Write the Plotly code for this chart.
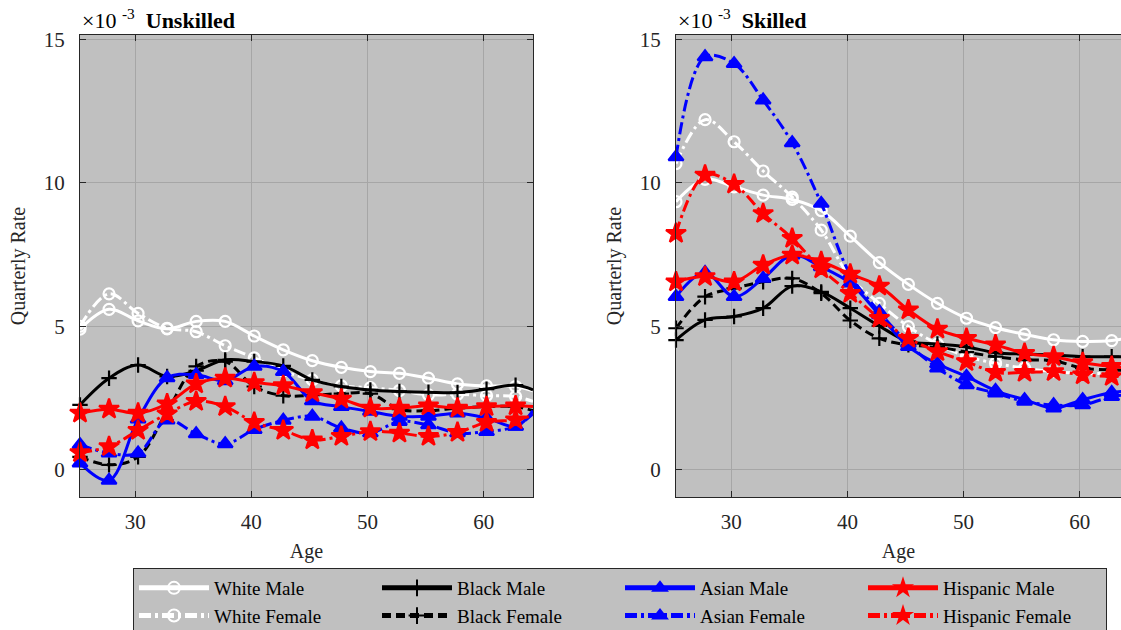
import plotly.graph_objects as go

ages = [25.25, 27.75, 30.25, 32.75, 35.25, 37.75, 40.25, 42.75, 45.25, 47.75,
        50.25, 52.75, 55.25, 57.75, 60.25, 62.75, 64.25]

# Unskilled (x 10^-3)
u_white_m = [4.9, 5.59, 5.19, 4.91, 5.17, 5.17, 4.66, 4.18, 3.8, 3.57, 3.42, 3.36, 3.19, 2.99, 2.92, 2.9, 2.75]
u_white_f = [5.0, 6.13, 5.45, 4.93, 4.81, 4.32, 3.9, 3.45, 3.13, 2.92, 2.86, 2.76, 2.61, 2.63, 2.58, 2.55, 2.38]
u_black_m = [2.26, 3.19, 3.65, 3.25, 3.45, 3.83, 3.77, 3.62, 3.13, 2.9, 2.78, 2.73, 2.7, 2.69, 2.81, 2.95, 2.78]
u_black_f = [0.45, 0.17, 0.45, 2.03, 3.6, 3.77, 2.9, 2.58, 2.6, 2.65, 2.65, 2.11, 2.06, 2.15, 2.2, 2.2, 2.06]
u_asian_m = [0.23, -0.37, 1.76, 3.2, 3.31, 3.1, 3.6, 3.42, 2.4, 2.2, 2.03, 1.86, 1.86, 1.97, 1.8, 1.51, 2.06]
u_asian_f = [0.87, 0.58, 0.58, 1.73, 1.25, 0.9, 1.4, 1.72, 1.86, 1.45, 1.28, 1.68, 1.56, 1.28, 1.33, 1.51, 1.95]
u_hisp_m = [1.97, 2.11, 1.97, 2.3, 2.99, 3.19, 3.04, 2.93, 2.69, 2.46, 2.15, 2.15, 2.23, 2.15, 2.2, 2.23, 2.2]
u_hisp_f = [0.6, 0.81, 1.37, 1.95, 2.38, 2.2, 1.65, 1.37, 1.04, 1.16, 1.33, 1.28, 1.16, 1.3, 1.65, 1.74, 1.9]

# Skilled (x 10^-3)
s_white_m = [9.34, 10.12, 9.86, 9.57, 9.42, 9.03, 8.14, 7.22, 6.46, 5.8, 5.28, 4.95, 4.72, 4.53, 4.47, 4.5, 4.6]
s_white_f = [10.67, 12.2, 11.43, 10.41, 9.5, 8.35, 6.7, 5.8, 4.99, 4.38, 3.95, 3.71, 3.54, 3.42, 3.36, 3.36, 3.36]
s_black_m = [4.52, 5.22, 5.34, 5.63, 6.4, 6.2, 5.63, 5.01, 4.47, 4.38, 4.28, 4.08, 4.03, 4.0, 3.94, 3.94, 3.94]
s_black_f = [4.93, 6.03, 6.32, 6.55, 6.67, 6.15, 5.2, 4.58, 4.35, 4.28, 4.1, 3.94, 3.83, 3.8, 3.54, 3.48, 3.45]
s_asian_m = [6.03, 6.87, 6.03, 6.67, 7.48, 7.07, 6.5, 5.4, 4.29, 3.69, 3.25, 2.76, 2.44, 2.15, 2.44, 2.69, 2.75]
s_asian_f = [10.9, 14.39, 14.15, 12.88, 11.39, 9.28, 6.8, 5.5, 4.4, 3.54, 2.96, 2.67, 2.38, 2.26, 2.26, 2.55, 2.62]
s_hisp_m = [6.55, 6.73, 6.55, 7.13, 7.48, 7.25, 6.82, 6.4, 5.57, 4.9, 4.58, 4.35, 4.06, 3.94, 3.73, 3.6, 3.54]
s_hisp_f = [8.24, 10.27, 9.95, 8.93, 8.06, 7.0, 6.15, 5.28, 4.58, 4.12, 3.77, 3.39, 3.39, 3.42, 3.31, 3.25, 3.25]

series_names = ["White Male", "White Female", "Black Male", "Black Female",
                "Asian Male", "Asian Female", "Hispanic Male", "Hispanic Female"]
unskilled = [u_white_m, u_white_f, u_black_m, u_black_f, u_asian_m, u_asian_f, u_hisp_m, u_hisp_f]
skilled = [s_white_m, s_white_f, s_black_m, s_black_f, s_asian_m, s_asian_f, s_hisp_m, s_hisp_f]

DASHDOT = "12px,4px,3px,4px"
DASH = "9px,5px"
styles = [
    dict(color="#ffffff", dash="solid", symbol="circle-open", size=11, rank=1),
    dict(color="#ffffff", dash=DASHDOT, symbol="circle-open", size=11, rank=5),
    dict(color="#000000", dash="solid", symbol="cross-thin-open", size=11, rank=2),
    dict(color="#000000", dash=DASH, symbol="cross-thin-open", size=11, rank=6),
    dict(color="#0000ff", dash="solid", symbol="triangle-up", size=13, rank=3),
    dict(color="#0000ff", dash=DASHDOT, symbol="triangle-up", size=13, rank=7),
    dict(color="#ff0000", dash="solid", symbol="star", size=15, rank=4),
    dict(color="#ff0000", dash=DASHDOT, symbol="star", size=15, rank=8),
]

fig = go.Figure()
for panel, data in enumerate([unskilled, skilled]):
    xa = "x" if panel == 0 else "x2"
    ya = "y" if panel == 0 else "y2"
    for name, vals, st in zip(series_names, data, styles):
        sizes = [st["size"]] * (len(ages) - 1) + [0]
        fig.add_trace(go.Scatter(
            x=ages, y=vals, name=name, mode="lines+markers",
            xaxis=xa, yaxis=ya,
            line=dict(color=st["color"], width=3, dash=st["dash"], shape="spline", smoothing=1.0),
            marker=dict(symbol=st["symbol"], size=sizes, color=st["color"], opacity=1,
                        line=dict(color=st["color"], width=2.2)),
            cliponaxis=False,
            showlegend=(panel == 0), legendrank=st["rank"],
        ))

FONT = "Liberation Serif, Times New Roman, serif"
axis_common = dict(
    showgrid=True, gridcolor="#a6a6a6", gridwidth=1,
    showline=True, linecolor="#262626", linewidth=1.3,
    ticks="inside", ticklen=6, tickcolor="#262626",
    tickfont=dict(family=FONT, size=21, color="#262626"),
    zeroline=False, automargin=False,
)
xcommon = dict(ticklabelstandoff=6,
               title=dict(text="Age", font=dict(family=FONT, size=20), standoff=10))
ycommon = dict(ticklabelstandoff=10,
               title=dict(text="Quarterly Rate", font=dict(family=FONT, size=20), standoff=12))

fig.update_layout(
    width=1121, height=630,
    margin=dict(l=0, r=0, t=0, b=0, autoexpand=False),
    paper_bgcolor="#ffffff", plot_bgcolor="#c0c0c0",
    font=dict(family=FONT, size=20, color="#262626"),
    xaxis=dict(domain=[80/1121, 533/1121], range=[25.25, 64.25], tickvals=[30, 40, 50, 60],
               mirror="ticks", anchor="y", **xcommon, **axis_common),
    yaxis=dict(domain=[1-497/630, 1-35/630], range=[-0.95, 15.15], tickvals=[0, 5, 10, 15],
               mirror="ticks", anchor="x", **ycommon, **axis_common),
    xaxis2=dict(domain=[676/1121, 1.0], range=[25.25, 63.55], tickvals=[30, 40, 50, 60],
                mirror="ticks", anchor="y2", **xcommon, **axis_common),
    yaxis2=dict(domain=[1-497/630, 1-35/630], range=[-0.95, 15.15], tickvals=[0, 5, 10, 15],
                mirror=False, anchor="x2", **ycommon, **axis_common),
    legend=dict(
        orientation="h", x=133/1121, y=1-568/630, xanchor="left", yanchor="top",
        bgcolor="#c0c0c0", bordercolor="#262626", borderwidth=1,
        font=dict(family=FONT, size=19, color="#000000"),
        entrywidth=158, entrywidthmode="pixels", itemwidth=70,
        itemsizing="constant",
        traceorder="normal", tracegroupgap=0,
    ),
    annotations=[
        dict(text="×10 <sup>-3</sup>  <b>Unskilled</b>", xref="paper", yref="paper",
             x=80/1121, y=1-35/630, xanchor="left", yanchor="bottom", showarrow=False,
             font=dict(family=FONT, size=22, color="#000000")),
        dict(text="×10 <sup>-3</sup>  <b>Skilled</b>", xref="paper", yref="paper",
             x=676/1121, y=1-35/630, xanchor="left", yanchor="bottom", showarrow=False,
             font=dict(family=FONT, size=22, color="#000000")),
    ],
)

fig.write_html("out.html")
